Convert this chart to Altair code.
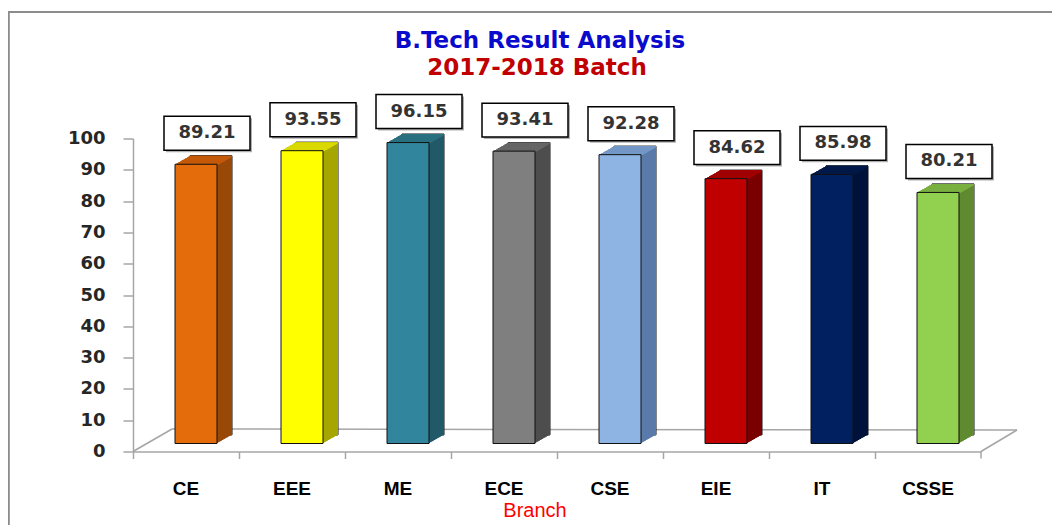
import altair as alt
import pandas as pd

# ---- data ----
branches = ["CE", "EEE", "ME", "ECE", "CSE", "EIE", "IT", "CSSE"]
results = [89.21, 93.55, 96.15, 93.41, 92.28, 84.62, 85.98, 80.21]
front_colors = ["#E46C0A", "#FFFF00", "#31859C", "#7F7F7F", "#8EB4E3", "#C00000", "#002060", "#92D050"]
side_colors = ["#984807", "#A6A600", "#215968", "#4D4D4D", "#5A7BAA", "#7A0000", "#00123A", "#5F8A30"]
top_colors = ["#C55A08", "#D9D900", "#287080", "#666666", "#7397C6", "#A00000", "#001848", "#7AB040"]
y_ticks = [0, 10, 20, 30, 40, 50, 60, 70, 80, 90, 100]

df = pd.DataFrame({
    "branch": branches,
    "value": results,
    "front": front_colors,
    "side": side_colors,
    "top": top_colors,
    "label": [f"{v:.2f}" for v in results],
})

W, H = 848, 313
DEPTH = 15
SLOPE = 0.57
BAR_W = 42
BAR_DX = 10
BAR_DY = -8
GRAY = "#A6A6A6"

x_enc = alt.X(
    "branch:N", sort=branches,
    scale=alt.Scale(paddingInner=0, paddingOuter=0),
    axis=alt.Axis(
        title=None, labelAngle=0, labelFont="Liberation Sans", labelFontSize=19,
        labelFontWeight="bold", labelColor="#000000", labelPadding=21,
        tickSize=7, tickColor=GRAY, tickWidth=1.5, domainColor=GRAY, domainWidth=1.5,
        bandPosition=0, grid=False,
    ),
)
y_enc = alt.Y(
    "value:Q",
    scale=alt.Scale(domain=[0, 100], nice=False),
    axis=alt.Axis(
        title=None, values=y_ticks, labelFont="DejaVu Sans", labelFontSize=18,
        labelFontWeight="bold", labelColor="#262626", labelPadding=18,
        tickSize=10, tickColor=GRAY, tickWidth=1.5, domainColor=GRAY, domainWidth=1.5,
        grid=False,
    ),
)

base = alt.Chart(df)
deco = alt.Chart(pd.DataFrame({"d": [0]}))

layers = []

# frame
layers.append(deco.mark_rule(color="#8C8C8C", strokeWidth=2).encode(
    x=alt.value(-125), x2=alt.value(W + 80), y=alt.value(-126.5)))
layers.append(deco.mark_rule(color="#8C8C8C", strokeWidth=2).encode(
    x=alt.value(-124.2), y=alt.value(-126.5), y2=alt.value(H + 80)))

# floor (3D base)
layers.append(deco.mark_rule(color=GRAY, strokeWidth=1.5).encode(
    x=alt.value(39), x2=alt.value(W + 36), y=alt.value(H - 22.5), y2=alt.value(H - 21.5)))
layers.append(deco.mark_rule(color=GRAY, strokeWidth=1.5).encode(
    x=alt.value(0), x2=alt.value(39), y=alt.value(H), y2=alt.value(H - 22.5)))
layers.append(deco.mark_rule(color=GRAY, strokeWidth=1.5).encode(
    x=alt.value(W), x2=alt.value(W + 36), y=alt.value(H), y2=alt.value(H - 21.5)))
layers.append(deco.mark_rule(color=GRAY, strokeWidth=1.5).encode(
    x=alt.value(W), y=alt.value(H), y2=alt.value(H + 7)))

# back outline (only right edge ends up visible)
k = DEPTH
layers.append(base.mark_bar(
    width=BAR_W, xOffset=BAR_DX + k, yOffset=BAR_DY - SLOPE * k, y2Offset=BAR_DY - SLOPE * k,
    stroke="#111111", strokeWidth=1,
).encode(x=x_enc, y=y_enc, color=alt.Color("side:N", scale=None)))

# side faces
for k in range(DEPTH, 0, -1):
    layers.append(base.mark_bar(
        width=BAR_W, xOffset=BAR_DX + k, yOffset=BAR_DY - SLOPE * k, y2Offset=BAR_DY - SLOPE * k,
    ).encode(x=x_enc, y=y_enc, color=alt.Color("side:N", scale=None)))

# top faces
for k in range(1, DEPTH + 1):
    off = BAR_DY - SLOPE * k
    layers.append(base.mark_bar(
        width=BAR_W, xOffset=BAR_DX + k, yOffset=off, y2Offset=off + 1.5,
    ).encode(x=x_enc, y=y_enc, y2=alt.Y2("value"), color=alt.Color("top:N", scale=None)))

# front faces
layers.append(base.mark_bar(
    width=BAR_W, xOffset=BAR_DX, yOffset=BAR_DY, y2Offset=BAR_DY,
    stroke="#111111", strokeWidth=1,
).encode(x=x_enc, y=y_enc, color=alt.Color("front:N", scale=None)))

# label boxes
box_path = "M-1,-0.395L1,-0.395L1,0.395L-1,0.395Z"
LBL_DX, LBL_DY = 21, -39
layers.append(base.mark_point(
    shape=box_path, size=86 * 86, filled=True, fill="#B0B0B0", opacity=1,
    xOffset=LBL_DX + 2, yOffset=LBL_DY + 2,
).encode(x=x_enc, y=y_enc))
layers.append(base.mark_point(
    shape=box_path, size=86 * 86, filled=False, fill="#FFFFFF", fillOpacity=1, opacity=1,
    stroke="#000000", strokeWidth=1.5, xOffset=LBL_DX, yOffset=LBL_DY,
).encode(x=x_enc, y=y_enc))
layers.append(base.mark_text(
    font="DejaVu Sans", fontWeight="bold", fontSize=18, color="#333333",
    dx=LBL_DX, dy=LBL_DY, baseline="middle", align="center",
).encode(x=x_enc, y=y_enc, text="label:N"))

# titles
layers.append(deco.mark_text(
    text="B.Tech Result Analysis", font="DejaVu Sans", fontWeight="bold", fontSize=23,
    color="#0A0ACC", align="center", baseline="middle",
).encode(x=alt.value(407), y=alt.value(-98)))
layers.append(deco.mark_text(
    text="2017-2018 Batch", font="DejaVu Sans", fontWeight="bold", fontSize=23,
    color="#C00000", align="center", baseline="middle",
).encode(x=alt.value(404), y=alt.value(-71)))
layers.append(deco.mark_text(
    text="Branch", font="Liberation Sans", fontSize=20,
    color="#FF0000", align="center", baseline="alphabetic",
).encode(x=alt.value(402), y=alt.value(378)))

chart = alt.layer(*layers).properties(
    width=W, height=H,
    autosize=alt.AutoSizeParams(type="none"),
    padding={"left": 125, "top": 130.5, "right": 71, "bottom": 73.5},
    background="#FFFFFF",
).configure_view(stroke="transparent")

chart.save("out.html", embed_options={"renderer": "svg", "actions": False})
